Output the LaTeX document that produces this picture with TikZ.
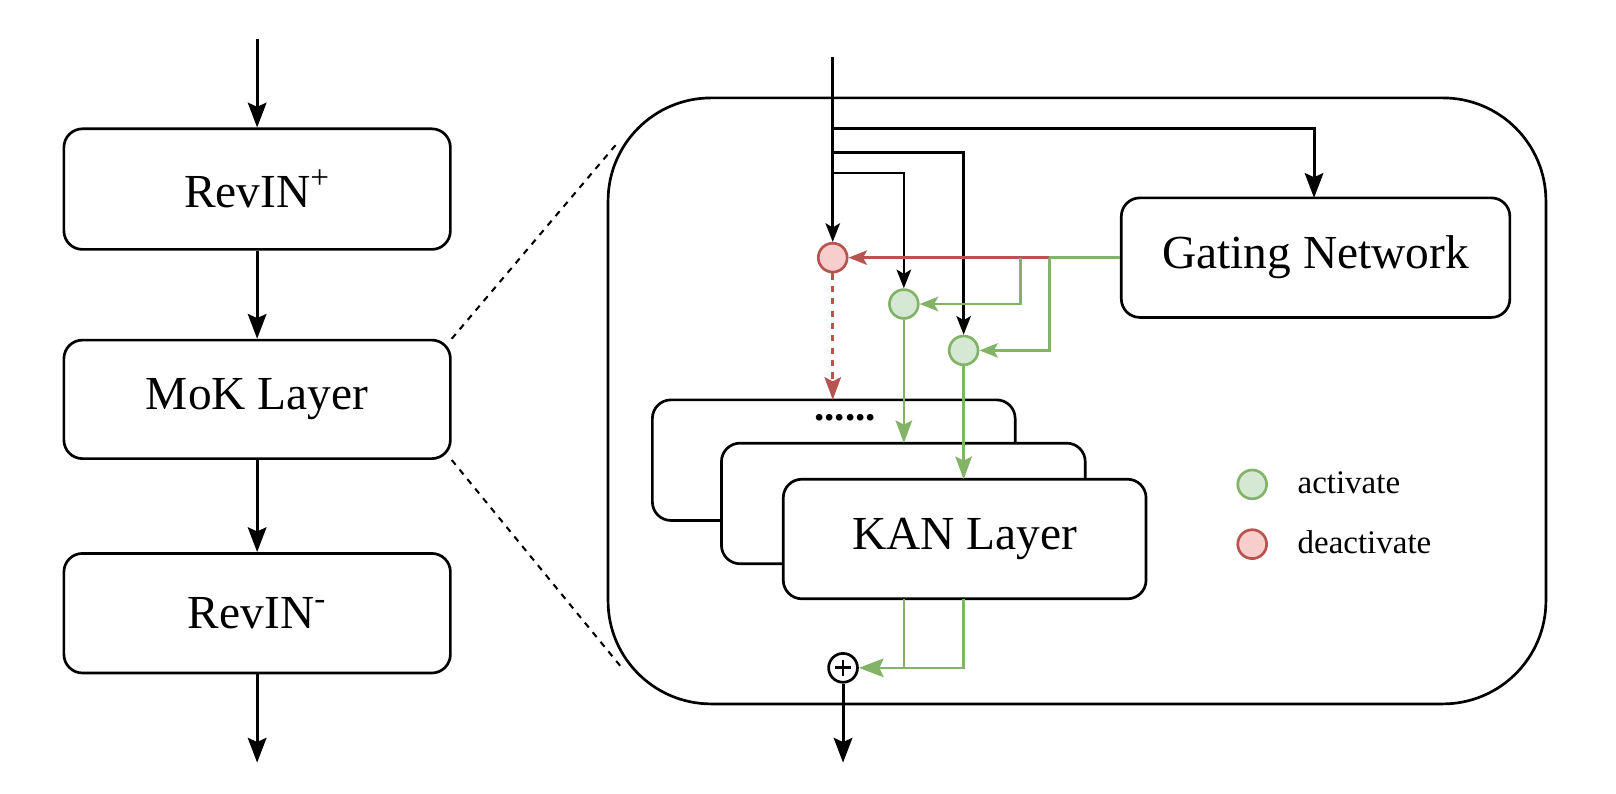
\documentclass[tikz,border=0pt]{standalone}
\usepackage{fontspec}
\setmainfont{Liberation Serif}
\usetikzlibrary{arrows.meta}
\definecolor{gfill}{HTML}{D5E8D4}\definecolor{gdraw}{HTML}{82B366}
\definecolor{rfill}{HTML}{F8CECC}\definecolor{rdraw}{HTML}{B85450}
\begin{document}
\begin{tikzpicture}[x=0.5pt,y=-0.5pt,
  box/.style={draw,line width=1.3pt,rounded corners=9pt,fill=white,inner sep=0pt},
  arr/.style={line width=1.5pt,-{Stealth[length=12pt,width=9pt,inset=2pt]}},
  sarr/.style={line width=1.3pt,-{Stealth[length=9pt,width=7pt,inset=2pt]}},
  gl/.style={draw=gdraw,line width=1.3pt},
  gc/.style={circle,draw=gdraw,fill=gfill,line width=1.3pt,minimum size=14pt,inner sep=0pt},
  rc/.style={circle,draw=rdraw,fill=rfill,line width=1.3pt,minimum size=14pt,inner sep=0pt},
  big/.style={font=\fontsize{23}{25}\selectfont}]
\useasboundingbox (0,0) rectangle (1568,770);
% left column
\node[box,big,minimum width=187.5pt,minimum height=58.5pt] (r1) at (249.5,183.5) {RevIN\textsuperscript{+}};
\node[box,big,minimum width=187.5pt,minimum height=57.5pt] (mk) at (249.5,387.5) {MoK Layer};
\node[box,big,minimum width=187.5pt,minimum height=58pt] (r2) at (249.5,595) {RevIN\textsuperscript{-}};
\coordinate (t0) at (249.5,38); \coordinate (t1) at (249.5,740);
\draw[arr] (t0) -- (r1.north);
\draw[arr] (r1.south) -- (mk.north);
\draw[arr] (mk.south) -- (r2.north);
\draw[arr] (r2.south) -- (t1);
% container
\draw[line width=1.3pt,rounded corners=50pt] (590,95) rectangle (1500,683);
\coordinate (c1) at (598,140); \coordinate (c2) at (605,650);
\draw[dashed,line width=1pt] (mk.north east) -- (c1);
\draw[dashed,line width=1pt] (mk.south east) -- (c2);
% gating
\node[box,big,minimum width=188.5pt,minimum height=58pt] (gn) at (1276.5,250) {Gating Network};
% circles
\node[rc] (rc) at (808,250) {};
\node[gc] (g1) at (877,295) {};
\node[gc] (g2) at (935,340) {};
% stacked boxes
\node[box,minimum width=176pt,minimum height=58.5pt] (b1) at (809,446.5) {};
\node at (820,405) {\fontsize{20}{20}\selectfont\bfseries......};
\node[box,minimum width=176.5pt,minimum height=58.5pt] (b2) at (876.5,488.5) {};
\node[box,big,minimum width=176pt,minimum height=58pt] (b3) at (936,523) {KAN Layer};
% input lines
\coordinate (in) at (808,55);
\draw[sarr] (in) -- (rc);
\draw[arr] (808,125) -| (1275,192);
\draw[sarr] (808,148) -| (g2);
\draw[sarr] (808,168) -| (g1);
% gating outputs
\draw[gl] (gn.west) -- (1018,250);
\draw[draw=rdraw,line width=1.3pt,-{Stealth[length=9pt,width=7pt,inset=2pt]}] (1018,250) -- (rc);
\draw[sarr,draw=gdraw] (990,250) |- (g1);
\draw[sarr,draw=gdraw] (1018,250) |- (g2);
\draw[dashed,draw=rdraw,line width=1.3pt,-{Stealth[length=11pt,width=8pt,inset=2pt]}] (rc) -- (808,388);
\draw[draw=gdraw,line width=1.3pt,-{Stealth[length=11pt,width=8pt,inset=2pt]}] (g1) -- (877,430);
\draw[draw=gdraw,line width=1.3pt,-{Stealth[length=11pt,width=8pt,inset=2pt]}] (g2) -- (935,465);
% output
\node[circle,draw,line width=1.3pt,fill=white,minimum size=14pt,inner sep=0pt] (pl) at (818,648) {};
\draw[line width=1.4pt] ([xshift=-4pt]pl.center) -- ([xshift=4pt]pl.center);
\draw[line width=1.4pt] ([yshift=-4pt]pl.center) -- ([yshift=4pt]pl.center);
\draw[gl] (877,581) -- (877,648);
\draw[draw=gdraw,line width=1.3pt,-{Stealth[length=12pt,width=9pt,inset=2pt]}] (935,581) |- (pl.east);
\coordinate (out) at (818,740);
\draw[arr] (pl.south) -- (out);
% legend
\node[gc] (lg) at (1215,470) {};
\node[anchor=west,font=\fontsize{16}{18}\selectfont] at (1252,468) {activate};
\node[rc] (lr) at (1215,528) {};
\node[anchor=west,font=\fontsize{16}{18}\selectfont] at (1252,526) {deactivate};
\end{tikzpicture}
\end{document}
